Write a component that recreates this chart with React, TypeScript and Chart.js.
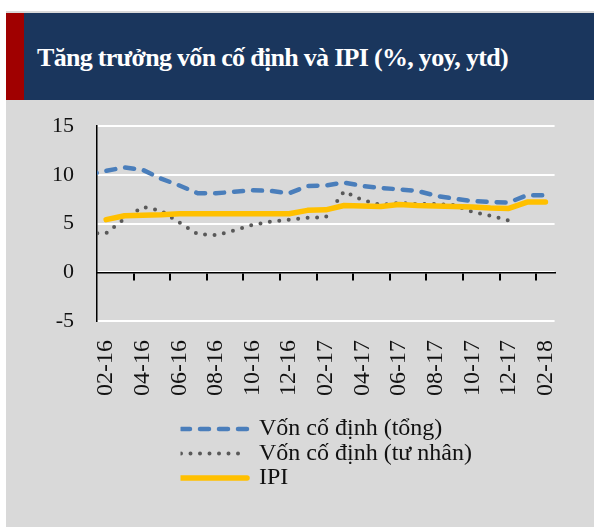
import React, { useEffect, useRef } from 'react';
import { Chart, registerables } from 'chart.js';

Chart.register(...registerables);

const FONT = "'Liberation Serif', 'Times New Roman', serif";

const title = 'Tăng trưởng vốn cố định và IPI (%, yoy, ytd)';

// Months (the first one, 01-16, lies just left of the visible axis)
const months = [
  '01-16', '02-16', '03-16', '04-16', '05-16', '06-16', '07-16', '08-16', '09-16', '10-16', '11-16', '12-16',
  '01-17', '02-17', '03-17', '04-17', '05-17', '06-17', '07-17', '08-17', '09-17', '10-17', '11-17', '12-17',
  '01-18', '02-18',
];

const seriesLabels = ['Vốn cố định (tổng)', 'Vốn cố định (tư nhân)', 'IPI'];

const totalInvestment = [
  10.0, 10.4, 10.75, 10.5, 9.6, 8.9, 8.1, 8.1, 8.25, 8.4, 8.35, 8.1, 8.85,
  8.9, 9.2, 8.85, 8.65, 8.5, 8.35, 7.85, 7.55, 7.3, 7.2, 7.15, 7.9, 7.9,
];

const privateInvestment: (number | null)[] = [
  4.0, 4.0, 5.5, 6.7, 6.3, 5.1, 3.9, 3.8, 4.3, 4.85, 5.2, 5.4, 5.6,
  5.65, 8.3, 7.4, 6.9, 7.1, 7.0, 7.0, 6.9, 6.2, 5.8, 5.3, null, null,
];

const ipi: (number | null)[] = [
  null, 5.4, 5.8, 5.85, 5.9, 6.0, 6.0, 6.0, 6.0, 6.0, 6.0, 6.0, 6.35,
  6.4, 6.85, 6.8, 6.75, 6.95, 6.85, 6.8, 6.75, 6.7, 6.6, 6.55, 7.2, 7.2,
];

const yTicks = [-5, 0, 5, 10, 15];

// index of a month on the x scale: 02-16 -> 0
const FIRST_SHOWN = 1;
const xOf = (k: number) => k - FIRST_SHOWN;
const X_MIN = xOf(FIRST_SHOWN) - 0.5;
const X_MAX = xOf(months.length - 1) + 0.5;

const toPoints = (arr: (number | null)[]) =>
  months
    .map((_, k) => ({ x: xOf(k), y: arr[k] }))
    .filter((p) => p.y !== null && p.y !== undefined);

const labelPositions = months
  .map((_, k) => xOf(k))
  .filter((v) => v >= 0 && v % 2 === 0);

const tickMarkPositions = months
  .map((_, k) => xOf(k))
  .filter((v) => v >= 0 && v < xOf(months.length - 1) && v % 2 === 1)
  .map((v) => v + 0.5);

const legendPlacer = {
  id: 'legendPlacer',
  afterLayout(chart: any) {
    const lg = chart.legend;
    if (!lg) return;
    lg.left = 174.5;
    lg.top = 316.5;
    lg.width = 400;
    lg.height = 90;
    lg.right = lg.left + lg.width;
    lg.bottom = lg.top + lg.height;
  },
};

export default function App() {
  const ref = useRef<HTMLCanvasElement | null>(null);

  useEffect(() => {
    if (!ref.current) return;
    const chart = new Chart(ref.current, {
      type: 'line',
      data: {
        datasets: [
          {
            label: seriesLabels[0],
            data: toPoints(totalInvestment),
            borderColor: '#4a7ebb',
            backgroundColor: '#4a7ebb',
            borderWidth: 4.5,
            borderDash: [9, 10],
            borderCapStyle: 'round',
            borderJoinStyle: 'round',
            order: 0,
          },
          {
            label: seriesLabels[1],
            data: toPoints(privateInvestment),
            borderColor: '#595959',
            backgroundColor: '#595959',
            borderWidth: 4,
            borderDash: [0, 9.5],
            borderCapStyle: 'round',
            borderJoinStyle: 'round',
            order: 2,
          },
          {
            label: seriesLabels[2],
            data: toPoints(ipi),
            borderColor: '#ffc000',
            backgroundColor: '#ffc000',
            borderWidth: 5.5,
            borderCapStyle: 'round',
            borderJoinStyle: 'round',
            order: 1,
          },
        ] as any,
      },
      options: {
        responsive: false,
        animation: false,
        events: [],
        layout: { padding: { left: 0, right: 38, top: 26, bottom: 0 } },
        elements: {
          point: { radius: 0, hoverRadius: 0 },
          line: { tension: 0, fill: false },
        },
        datasets: {
          line: { clip: { left: 0, right: 10, top: 10, bottom: 10 } as any },
        },
        scales: {
          x: {
            type: 'linear',
            position: 'bottom',
            min: X_MIN,
            max: X_MAX,
            afterBuildTicks: (axis: any) => {
              axis.ticks = labelPositions.map((v) => ({ value: v }));
            },
            afterFit: (s: any) => {
              s.height = 206;
            },
            grid: { display: false, drawTicks: false },
            border: { display: false },
            ticks: {
              autoSkip: false,
              minRotation: 90,
              maxRotation: 90,
              padding: 19,
              color: '#111',
              font: { family: FONT, size: 24 },
              callback: (v: any) => months[Math.round(Number(v)) + FIRST_SHOWN],
            },
          },
          x2: {
            type: 'linear',
            position: { y: 0 } as any,
            min: X_MIN,
            max: X_MAX,
            afterBuildTicks: (axis: any) => {
              axis.ticks = tickMarkPositions.map((v) => ({ value: v }));
            },
            grid: {
              display: true,
              drawOnChartArea: false,
              drawTicks: true,
              tickLength: 7,
              color: '#000',
              lineWidth: 2,
            },
            border: { display: true, color: '#000', width: 1.5 },
            ticks: { display: false },
          },
          y: {
            type: 'linear',
            min: yTicks[0],
            max: yTicks[yTicks.length - 1],
            afterBuildTicks: (axis: any) => {
              axis.ticks = yTicks.map((v) => ({ value: v }));
            },
            afterFit: (s: any) => {
              s.width = 91;
              s.paddingTop = 0;
              s.paddingBottom = 0;
            },
            grid: { color: '#ffffff', lineWidth: 2, drawTicks: false },
            border: { display: true, color: '#000', width: 1.5 },
            ticks: {
              padding: 23,
              color: '#111',
              font: { family: FONT, size: 22 },
            },
          },
        } as any,
        plugins: {
          tooltip: { enabled: false },
          title: { display: false },
          legend: {
            display: true,
            position: 'chartArea' as any,
            align: 'start',
            labels: {
              usePointStyle: true,
              pointStyleWidth: 66,
              padding: 0.5,
              color: '#111',
              font: { family: FONT, size: 24 },
              generateLabels: (c: any) =>
                c.data.datasets.map((ds: any, i: number) => ({
                  text: ds.label,
                  fillStyle: ds.borderColor,
                  strokeStyle: ds.borderColor,
                  lineWidth: ds.borderWidth,
                  lineDash: ds.borderDash || [],
                  lineCap: ds.borderCapStyle,
                  lineJoin: 'round',
                  pointStyle: 'line',
                  fontColor: '#111',
                  hidden: false,
                  datasetIndex: i,
                })),
            },
          },
        },
      },
      plugins: [legendPlacer],
    } as any);
    return () => chart.destroy();
  }, []);

  return (
    <div
      style={{
        position: 'absolute',
        left: 6,
        top: 11,
        width: 588,
        height: 516,
        background: '#d9d9d9',
        overflow: 'hidden',
      }}
    >
      <div
        style={{
          position: 'absolute',
          left: 0,
          top: 2,
          width: 588,
          height: 87,
          boxSizing: 'border-box',
          background: '#1a365d',
          borderLeft: '18px solid #a00000',
        }}
      >
        <span
          style={{
            position: 'absolute',
            left: 13,
            top: 32,
            fontFamily: FONT,
            fontWeight: 'bold',
            fontSize: 26,
            lineHeight: '26px',
            letterSpacing: '-0.7px',
            color: '#ffffff',
            whiteSpace: 'nowrap',
          }}
        >
          {title}
        </span>
      </div>
      <canvas
        ref={ref}
        width={588}
        height={427}
        style={{ position: 'absolute', left: 0, top: 89, display: 'block' }}
      />
    </div>
  );
}
